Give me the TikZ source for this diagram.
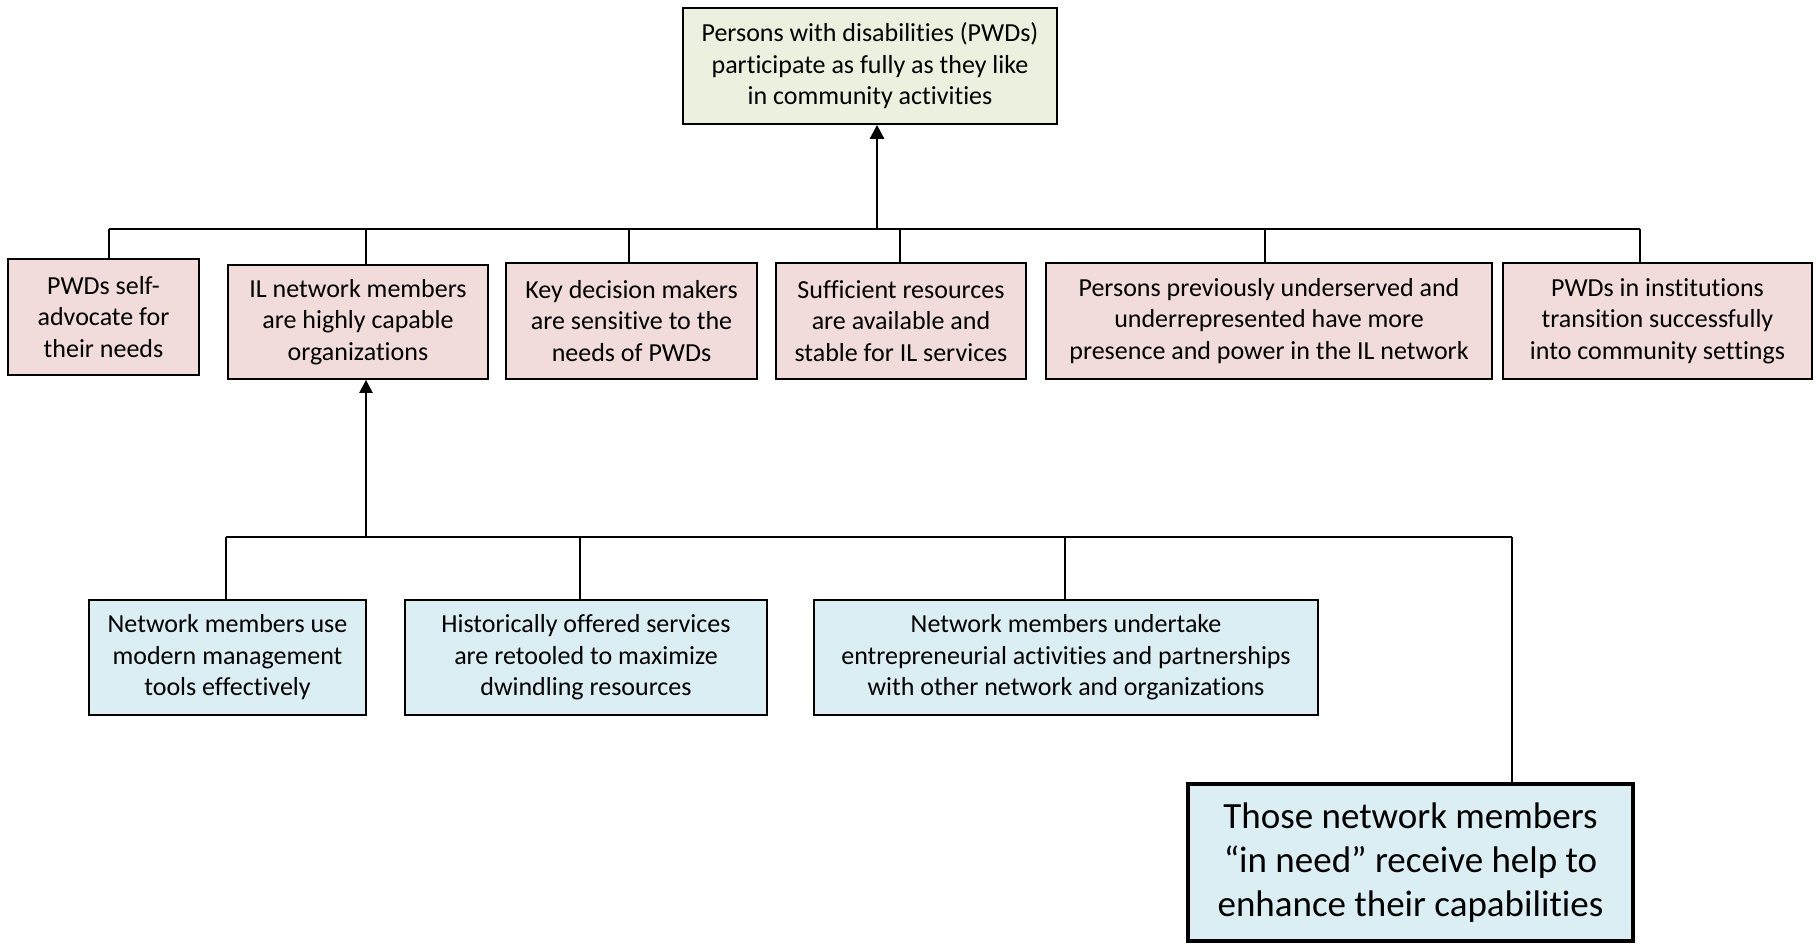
\documentclass[tikz,border=0pt]{standalone}
\usepackage{fontspec}
\setmainfont{Carlito}[Ligatures={NoCommon}]
\usetikzlibrary{arrows.meta}
\definecolor{topgreen}{HTML}{EBF1DE}
\definecolor{pinkbox}{HTML}{F2DCDB}
\definecolor{bluebox}{HTML}{DBEEF4}
\begin{document}
\begin{tikzpicture}[x=1pt,y=-1pt,
  box/.style={draw=black, line width=1.8pt, align=center, inner sep=0pt,
    font=\fontsize{26}{31.5}\selectfont},
  goalbox/.style={box, fill=topgreen},
  outbox/.style={box, fill=pinkbox},
  subbox/.style={box, fill=bluebox},
  bigbox/.style={box, fill=bluebox, line width=3.5pt, font=\fontsize{37}{44}\selectfont},
  conn/.style={draw=black, line width=1.8pt},
  arr/.style={draw=black, line width=2.8pt, -{Triangle[length=14pt,width=14pt]}}]
\useasboundingbox (0,0) rectangle (1816,944);

\node[goalbox, minimum width=374pt, minimum height=116pt] (top) at (870,66)
  {Persons with disabilities (PWDs)\\participate as fully as they like\\in community activities};

\node[outbox, minimum width=191pt, minimum height=116pt] (b1) at (103.5,317)
  {PWDs self-\\advocate for\\their needs};
\node[outbox, minimum width=260pt, minimum height=114pt] (b2) at (358,322)
  {IL network members\\are highly capable\\organizations};
\node[outbox, minimum width=251pt, minimum height=116pt] (b3) at (631.5,321)
  {Key decision makers\\are sensitive to the\\needs of PWDs};
\node[outbox, minimum width=250pt, minimum height=116pt] (b4) at (901,321)
  {Sufficient resources\\are available and\\stable for IL services};
\node[outbox, minimum width=446pt, minimum height=116pt] (b5) at (1269,321)
  {Persons previously underserved and\\underrepresented have more\\presence and power in the IL network};
\node[outbox, minimum width=309pt, minimum height=116pt] (b6) at (1657.5,321)
  {PWDs in institutions\\transition successfully\\into community settings};

\node[subbox, minimum width=277pt, minimum height=115pt] (c1) at (227.5,657.5)
  {Network members use\\modern management\\tools effectively};
\node[subbox, minimum width=362pt, minimum height=115pt] (c2) at (586,657.5)
  {Historically offered services\\are retooled to maximize\\dwindling resources};
\node[subbox, minimum width=504pt, minimum height=115pt] (c3) at (1066,657.5)
  {Network members undertake\\entrepreneurial activities and partnerships\\with other network and organizations};
\node[bigbox, minimum width=445pt, minimum height=157pt] (c4) at (1410.5,862.5)
  {Those network members\\“in need” receive help to\\enhance their capabilities};

% upper bus
\coordinate (bus1) at (877,229);
\coordinate (u1) at (109,229);
\coordinate (u2) at (366,229);
\coordinate (u3) at (629,229);
\coordinate (u4) at (900,229);
\coordinate (u5) at (1265,229);
\coordinate (u6) at (1640,229);
\draw[conn] (u1) -- (u6);
\draw[conn] (u1) -- (u1 |- b1.north);
\draw[conn] (u2) -- (u2 |- b2.north);
\draw[conn] (u3) -- (u3 |- b3.north);
\draw[conn] (u4) -- (u4 |- b4.north);
\draw[conn] (u5) -- (u5 |- b5.north);
\draw[conn] (u6) -- (u6 |- b6.north);
\draw[arr] (bus1) -- (top.south -| bus1);

% lower bus
\coordinate (bus2) at (366,537);
\coordinate (l1) at (226,537);
\coordinate (l2) at (580,537);
\coordinate (l3) at (1065,537);
\coordinate (l4) at (1512,537);
\draw[conn] (l1) -- (l4);
\draw[conn] (l1) -- (l1 |- c1.north);
\draw[conn] (l2) -- (l2 |- c2.north);
\draw[conn] (l3) -- (l3 |- c3.north);
\draw[conn] (l4) -- (l4 |- c4.north);
\draw[arr, line width=2.4pt, -{Triangle[length=13pt,width=13pt]}] (bus2) -- (b2.south -| bus2);
\end{tikzpicture}
\end{document}
